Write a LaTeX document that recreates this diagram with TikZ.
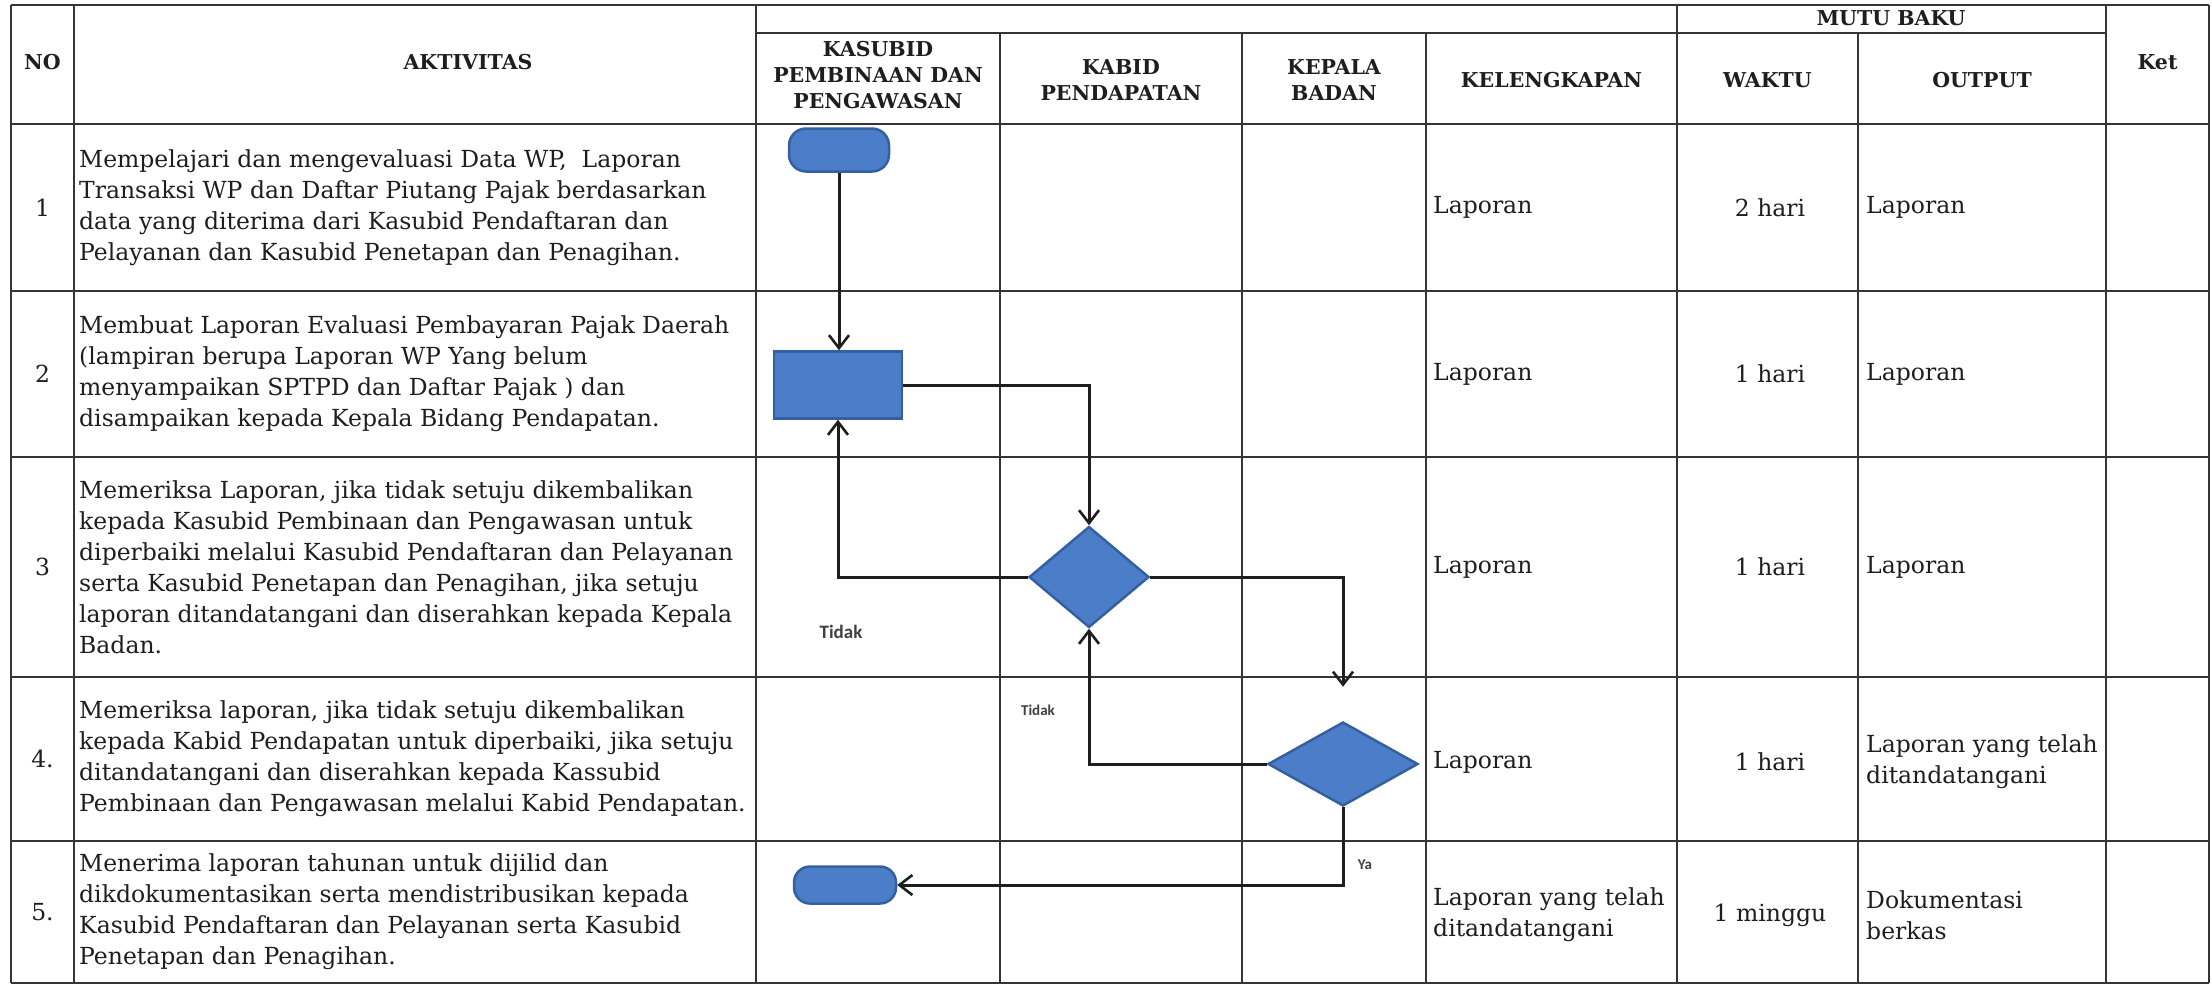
\documentclass[tikz,border=0pt]{standalone}
\usepackage{fontspec}
\setmainfont{DejaVu Serif}
\newfontfamily\lblfont{Carlito}
\usetikzlibrary{arrows.meta,shapes.geometric}
\definecolor{flowfill}{HTML}{4C7DC8}
\definecolor{flowedge}{HTML}{34609F}
\definecolor{ink}{HTML}{1E1E1E}
\begin{document}
\begin{tikzpicture}[x=1pt,y=-1pt,
  rule/.style={line width=2.5pt, draw=ink!90},
  hdr/.style={font=\fontsize{20.5}{26}\selectfont\bfseries, align=center, inner sep=0, text=ink},
  body/.style={font=\fontsize{23.5}{31}\selectfont, align=left, anchor=west, inner sep=0, text=ink},
  mid/.style={font=\fontsize{23.5}{31}\selectfont, align=center, inner sep=0, text=ink},
  term/.style={draw=flowedge, fill=flowfill, line width=2.5pt, rectangle, rounded corners=17pt, inner sep=0},
  proc/.style={draw=flowedge, fill=flowfill, line width=2.5pt, rectangle, inner sep=0},
  decide/.style={draw=flowedge, fill=flowfill, line width=2.5pt, diamond, inner sep=0},
  conn/.style={draw=ink, line width=3pt, -{Straight Barb[length=13pt,width=20pt,line width=2.6pt]}},
  lbl/.style={text=ink!85, inner sep=0}
]
% page
\fill[white] (0,0) rectangle (2212,986);
\useasboundingbox (0,0) rectangle (2212,986);

% ---- table rules ----
\foreach \y in {5,124,291,457,677,841,983}
  \draw[rule] (11,\y) -- (2209,\y);
\draw[rule] (756,33) -- (2106,33);
\foreach \x in {11,74,756,1677,2106,2209}
  \draw[rule] (\x,5) -- (\x,983);
\foreach \x in {1000,1242,1426,1858}
  \draw[rule] (\x,33) -- (\x,983);

% ---- header ----
\node[hdr] (hNo)   at (42.5,62)  {NO};
\node[hdr] (hAkt)  at (468,62)   {AKTIVITAS};
\node[hdr] (hKsb)  at (878,75)   {KASUBID\\PEMBINAAN DAN\\PENGAWASAN};
\node[hdr] (hKbd)  at (1121,80)  {KABID\\PENDAPATAN};
\node[hdr] (hKpl)  at (1334,80)  {KEPALA\\BADAN};
\node[hdr] (hKlg)  at (1551.5,80){KELENGKAPAN};
\node[hdr] (hMutu) at (1891,18)  {MUTU BAKU};
\node[hdr] (hWkt)  at (1767.5,80){WAKTU};
\node[hdr] (hOut)  at (1982,80)  {OUTPUT};
\node[hdr] (hKet)  at (2157.5,62){Ket};

% ---- row numbers ----
\node[mid] (n1) at (42.5,207.5) {1};
\node[mid] (n2) at (42.5,374)   {2};
\node[mid] (n3) at (42.5,567)   {3};
\node[mid] (n4) at (42.5,759)   {4.};
\node[mid] (n5) at (42.5,912)   {5.};

% ---- activities ----
\node[body] (a1) at (79,207.5) {Mempelajari dan mengevaluasi Data WP,\ \ Laporan\\Transaksi WP dan Daftar Piutang Pajak berdasarkan\\data yang diterima dari Kasubid Pendaftaran dan\\Pelayanan dan Kasubid Penetapan dan Penagihan.};
\node[body] (a2) at (79,374) {Membuat Laporan Evaluasi Pembayaran Pajak Daerah\\(lampiran berupa Laporan WP Yang belum\\menyampaikan SPTPD dan Daftar Pajak ) dan\\disampaikan kepada Kepala Bidang Pendapatan.};
\node[body] (a3) at (79,567) {Memeriksa Laporan, jika tidak setuju dikembalikan\\kepada Kasubid Pembinaan dan Pengawasan untuk\\diperbaiki melalui Kasubid Pendaftaran dan Pelayanan\\serta Kasubid Penetapan dan Penagihan, jika setuju\\laporan ditandatangani dan diserahkan kepada Kepala\\Badan.};
\node[body] (a4) at (79,759) {Memeriksa laporan, jika tidak setuju dikembalikan\\kepada Kabid Pendapatan untuk diperbaiki, jika setuju\\ditandatangani dan diserahkan kepada Kassubid\\Pembinaan dan Pengawasan melalui Kabid Pendapatan.};
\node[body] (a5) at (79,912) {Menerima laporan tahunan untuk dijilid dan\\dikdokumentasikan serta mendistribusikan kepada\\Kasubid Pendaftaran dan Pelayanan serta Kasubid\\Penetapan dan Penagihan.};

% ---- kelengkapan ----
\node[body] (k1) at (1433,207.5) {Laporan};
\node[body] (k2) at (1433,374)   {Laporan};
\node[body] (k3) at (1433,567)   {Laporan};
\node[body] (k4) at (1433,762)   {Laporan};
\node[body] (k5) at (1433,915)   {Laporan yang telah\\ditandatangani};

% ---- waktu ----
\node[mid] (w1) at (1770,207.5) {2 hari};
\node[mid] (w2) at (1770,374)   {1 hari};
\node[mid] (w3) at (1770,567)   {1 hari};
\node[mid] (w4) at (1770,762)   {1 hari};
\node[mid] (w5) at (1770,915)   {1 minggu};

% ---- output ----
\node[body] (o1) at (1866,207.5) {Laporan};
\node[body] (o2) at (1866,374)   {Laporan};
\node[body] (o3) at (1866,567)   {Laporan};
\node[body] (o4) at (1866,762)   {Laporan yang telah\\ditandatangani};
\node[body] (o5) at (1866,915)   {Dokumentasi\\berkas};

% ---- flow shapes ----
\node[term, minimum width=100pt, minimum height=43pt] (start) at (839,150) {};
\node[proc, minimum width=128pt, minimum height=67pt] (work) at (838,385) {};
\node[decide, minimum width=120pt, minimum height=101pt] (chk1) at (1089,577) {};
\node[decide, minimum width=150pt, minimum height=84pt] (chk2) at (1343,764) {};
\node[term, minimum width=102pt, minimum height=37pt, rounded corners=16pt] (finish) at (845,885) {};

% ---- connectors ----
\draw[conn] (start.south) -- (start.south |- work.north);
\draw[conn] (work.east) -| (chk1.north);
\draw[conn] (chk1.west) -| (work.south);
\draw[conn, shorten >=34pt] (chk1.east) -| (chk2.north);
\draw[conn] (chk2.west) -| (chk1.south);
\draw[conn] (chk2.south) |- (finish.east);

% ---- branch labels ----
\node[lbl, font=\lblfont\bfseries\fontsize{19}{22}\selectfont] (t1) at (841,632) {Tidak};
\node[lbl, font=\lblfont\bfseries\fontsize{15}{18}\selectfont] (t2) at (1038,710) {Tidak};
\node[lbl, font=\lblfont\bfseries\fontsize{15}{18}\selectfont] (y2) at (1365,865) {Ya};
\end{tikzpicture}
\end{document}
